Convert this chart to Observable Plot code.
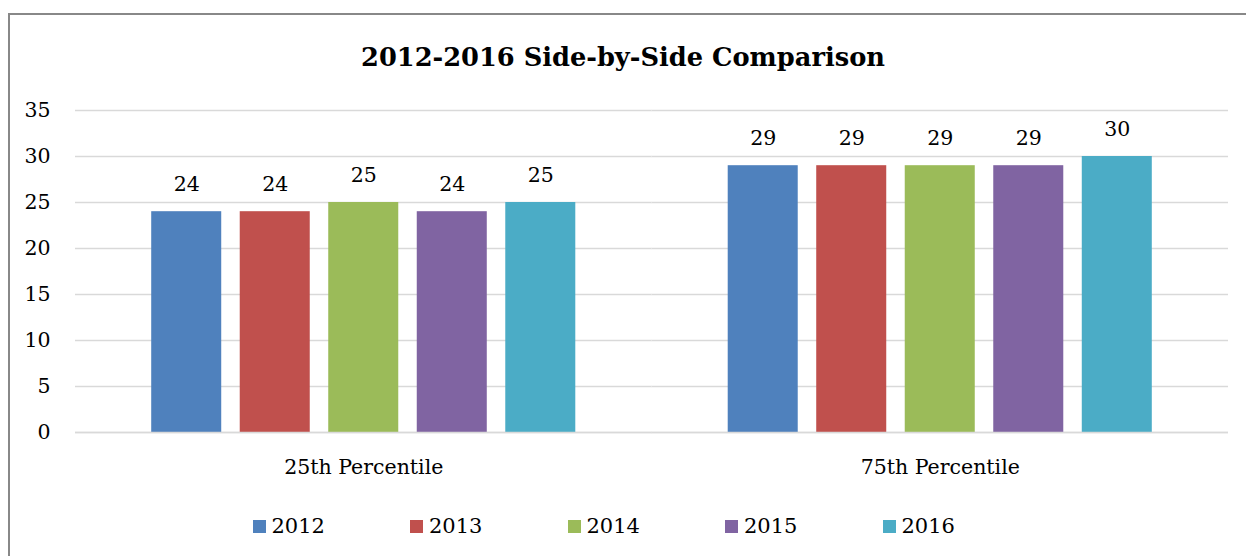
<!DOCTYPE html>
<html><head><meta charset="utf-8">
<script src="https://cdn.jsdelivr.net/npm/d3@7"></script>
<script src="https://cdn.jsdelivr.net/npm/@observablehq/plot@0.6"></script>
<style>
body{margin:0;background:#fff;}
#wrap{position:relative;width:1246px;height:556px;overflow:hidden;font-family:"DejaVu Serif",serif;color:#000;}
#frame{position:absolute;left:8px;top:13px;width:1260px;height:600px;border:2px solid #888;box-sizing:border-box;}
#title{position:absolute;top:40px;left:0;width:1246px;text-align:center;font-weight:bold;font-size:25.7px;line-height:34px;}
#chart{position:absolute;left:0;top:90px;}
#legend{position:absolute;top:512px;left:252.5px;display:flex;}
.item{width:157.5px;display:flex;align-items:center;font-size:21px;line-height:28px;}
.sw{width:13px;height:13px;margin-right:6px;flex:none;}
</style></head>
<body><div id="wrap"><div id="frame"></div><div id="title">2012-2016 Side-by-Side Comparison</div><div id="chart"></div><div id="legend"></div></div>
<script>
const categories = ["25th Percentile", "75th Percentile"];
const years = ["2012", "2013", "2014", "2015", "2016"];
const p25 = [24, 24, 25, 24, 25];
const p75 = [29, 29, 29, 29, 30];
const colors = ["#4F81BD", "#C0504D", "#9BBB59", "#8064A2", "#4BACC6"];
const yTicks = [0, 5, 10, 15, 20, 25, 30, 35];

const series = [p25, p75];
const data = [];
categories.forEach((c, i) => years.forEach((y, j) => data.push({category: c, year: y, value: series[i][j]})));

const chart = Plot.plot({
  width: 1246,
  height: 400,
  marginLeft: 75,
  marginRight: 18,
  marginTop: 20,
  marginBottom: 58,
  style: {fontFamily: "DejaVu Serif, serif", fontSize: "20.5px", color: "#000", background: "transparent"},
  fx: {domain: categories, padding: 0, label: null, round: false},
  x: {domain: years, paddingInner: 0.209, paddingOuter: 0.861, axis: null, round: false},
  y: {domain: [0, 35], ticks: yTicks, label: null},
  color: {domain: years, range: colors},
  marks: [
    Plot.gridY(yTicks, {stroke: "#d9d9d9", strokeOpacity: 1, strokeWidth: 1.5}),
    Plot.axisY(yTicks, {tickSize: 0, tickPadding: 25, fontSize: 20.5, label: null}),
    Plot.axisFx({anchor: "bottom", tickSize: 0, tickPadding: 27, fontSize: 20.5, label: null}),
    Plot.barY(data, {fx: "category", x: "year", y: "value", fill: "year"}),
    Plot.ruleY([0], {stroke: "#d9d9d9", strokeWidth: 1.5}),
    Plot.text(data, {fx: "category", x: "year", y: "value", text: d => String(d.value), dy: -27, fontSize: 20.5, fill: "#000"})
  ]
});
document.getElementById("chart").appendChild(chart);

const legend = document.getElementById("legend");
years.forEach((y, i) => {
  const it = document.createElement("div"); it.className = "item";
  const sw = document.createElement("div"); sw.className = "sw"; sw.style.background = colors[i];
  const t = document.createElement("span"); t.textContent = y;
  it.appendChild(sw); it.appendChild(t); legend.appendChild(it);
});
</script></body></html>
